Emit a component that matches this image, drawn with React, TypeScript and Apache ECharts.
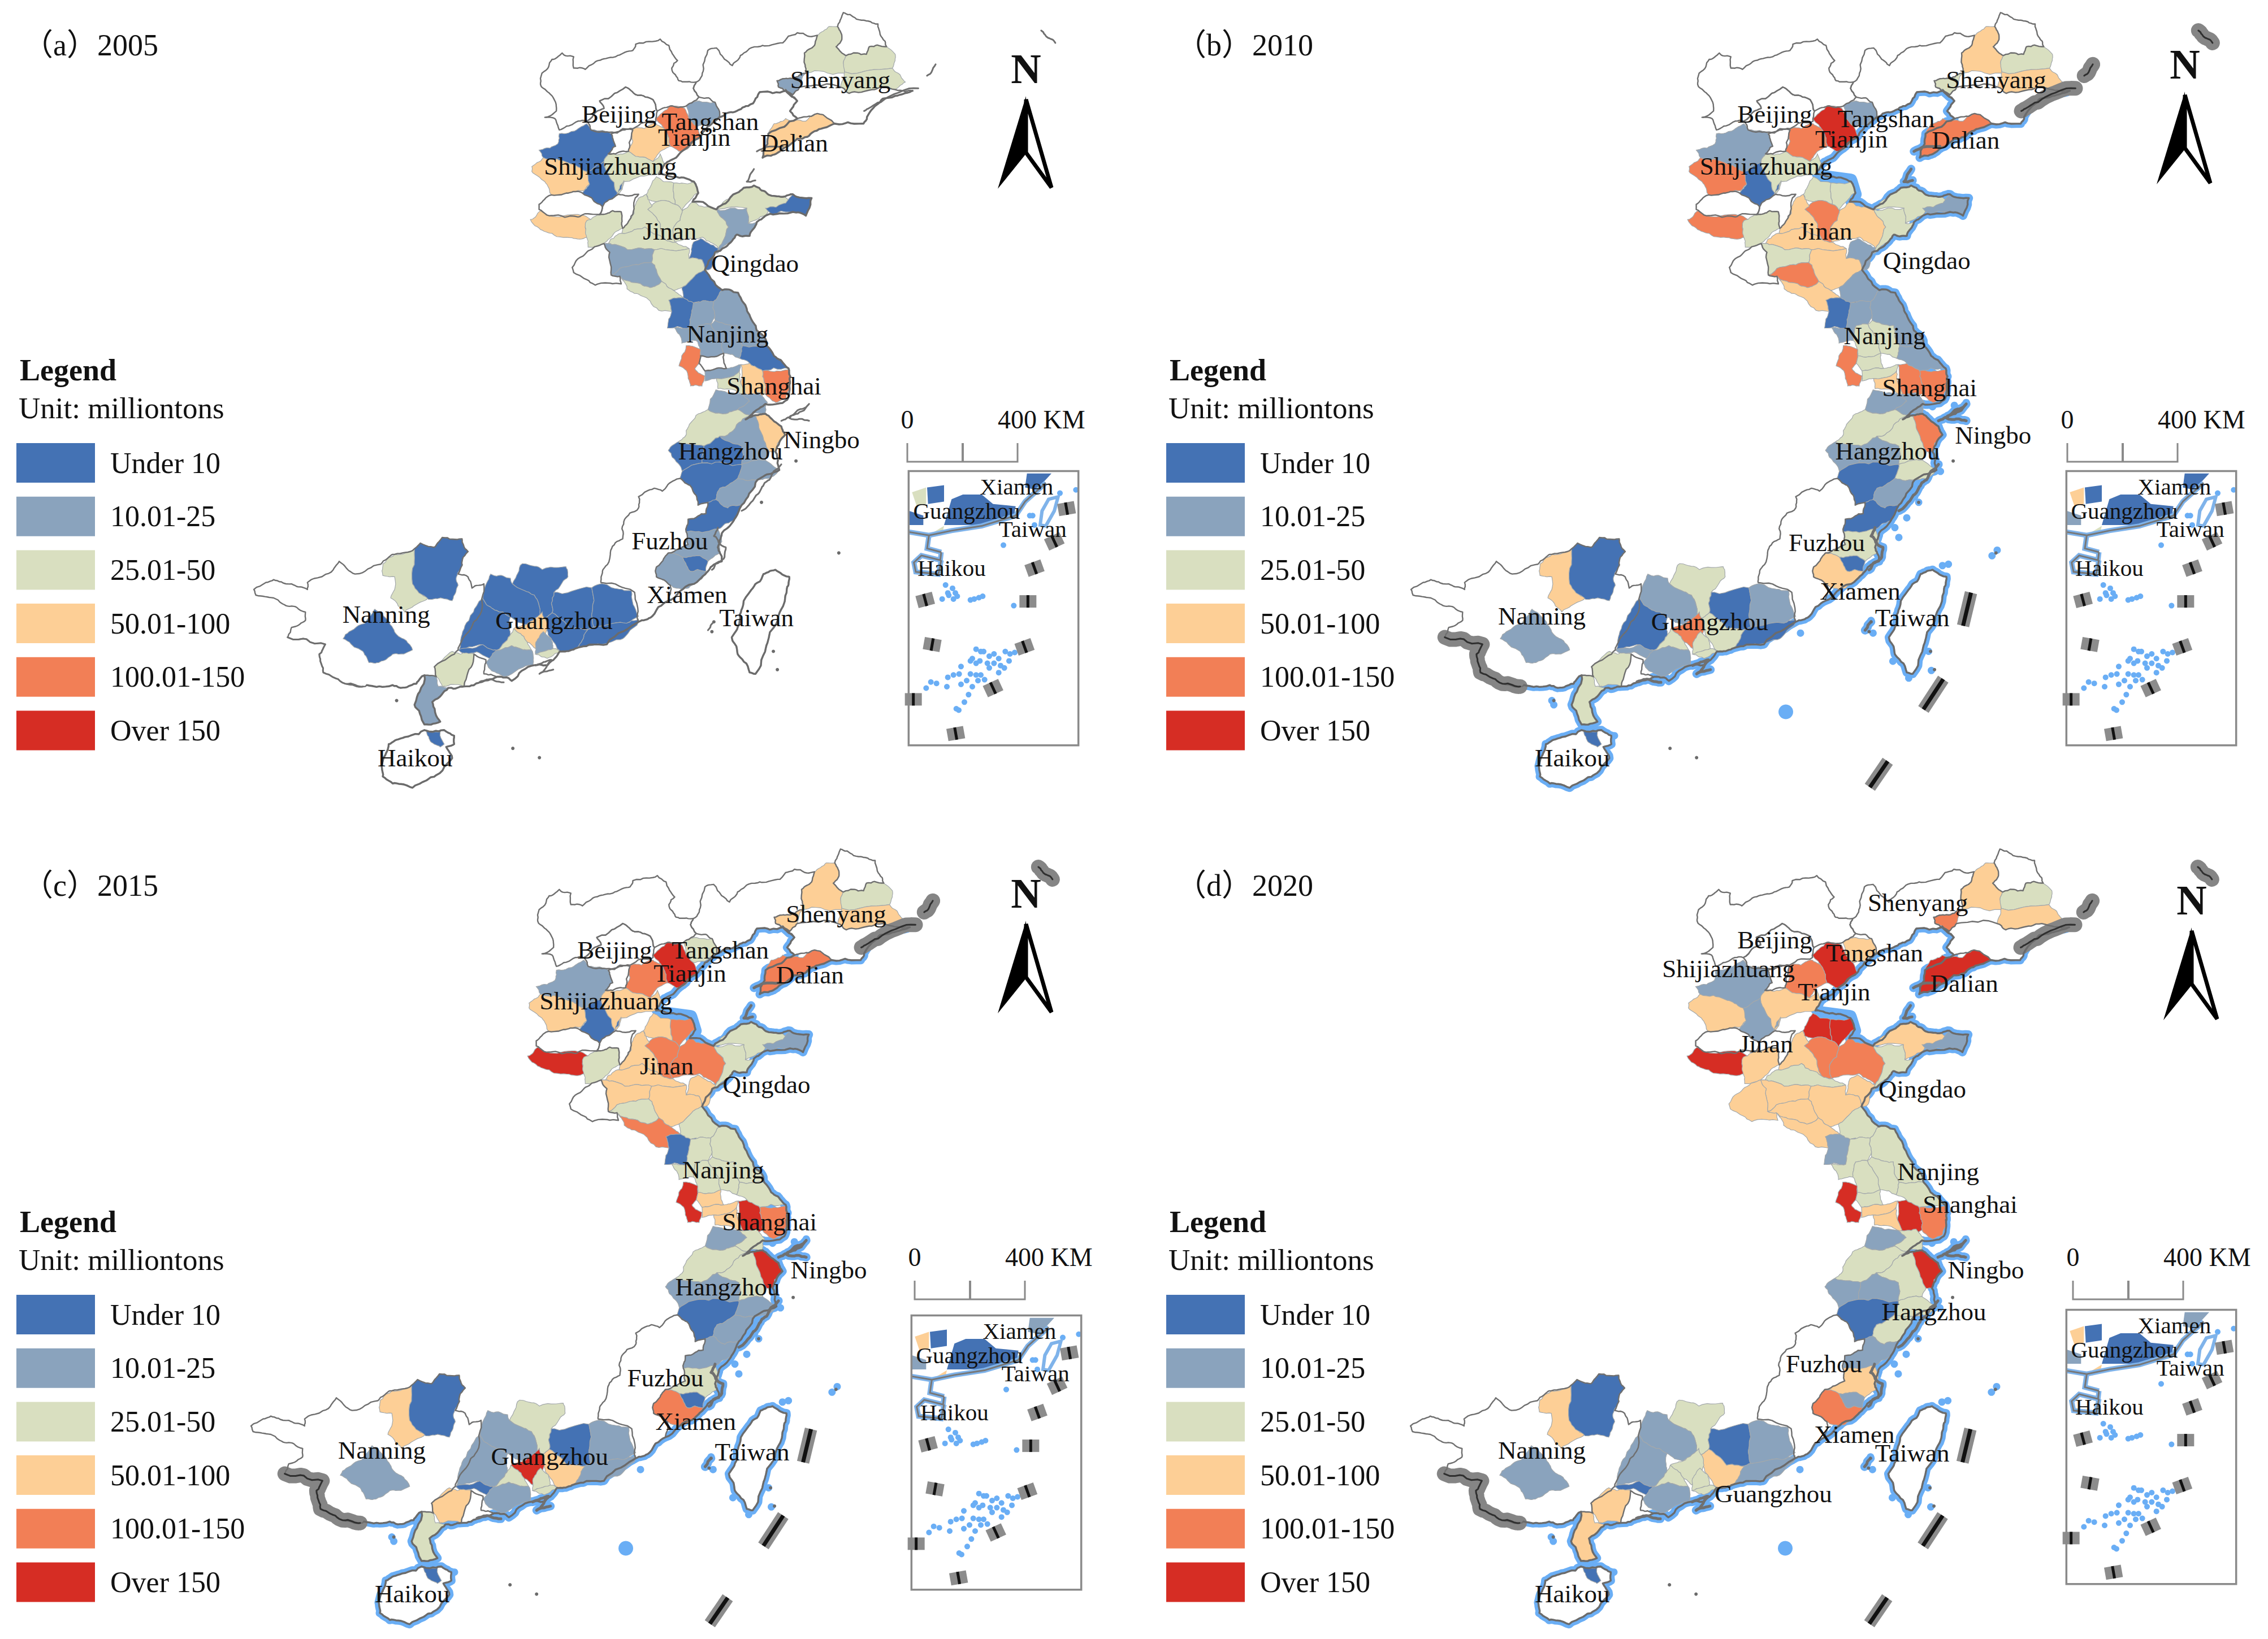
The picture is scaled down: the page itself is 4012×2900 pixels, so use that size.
import React, { useEffect, useRef } from "react";
import * as echarts from "echarts";

const serif = "'Liberation Serif','Times New Roman',serif";
const classColors = ["#4472b4", "#8aa3bd", "#d9dfc0", "#fdcf96", "#f27f56", "#d62d24"];
const legendLabels = ["Under 10", "10.01-25", "25.01-50", "50.01-100", "100.01-150", "Over 150"];
const panelTitles = ["（a）2005", "（b）2010", "（c）2015", "（d）2020"];

// region order, shared by the value lists below
const regionNames = ["hebeiN","beijing","langfang","liaoxi","tieling","shenyang","fushun","benxi","anshan","liaonan","dalian","qinhuangdao","tangshan","tianjin","baoding","shijiazhuang","cangzhou","xingtai","anyang","handan","liaocheng","dezhou","jinan","binzhou","dongying","zibo","weifang","yantai","weihai","qingdao","rizhao","taian","jining","heze","zaozhuang","linyi","xuzhou","lianyungang","suqian","huaian","yancheng","yangzhou","taizhouJS","nantong","nanjing","zhenjiang","changzhou","wuxi","suzhou","shanghai","huzhou","jiaxing","hangzhou","shaoxing","ningbo","quzhou","jinhua","lishui","taizhouZJ","wenzhou","ningde","fuzhou","putian","quanzhou","fujianW","guangxi","liuzhou","guilin","nanning","shaoguan","qingyuan","zhaoqing","yunfu","heyuan","meizhou","chaoshan","huizhou","guangzhou","foshan","dongguan","shenzhen","jiangmen","maoming","yangjiang","zhanjiang","hainan","haikou","taiwan"];

const n = null;
const values2005 = [n,n,n,n,n,38,38,38,18,n,75,18,125,75,6,75,38,6,n,75,38,n,38,38,38,38,38,38,6,18,6,38,18,n,18,38,38,6,6,18,18,18,18,6,125,n,18,38,75,125,18,18,38,18,75,6,6,6,18,18,6,18,6,18,n,n,38,6,6,6,6,6,6,6,6,6,6,75,38,18,38,18,38,n,18,n,6,n];
const values2010 = [n,n,n,n,n,75,38,75,38,n,125,18,180,125,18,125,38,6,n,125,38,n,75,38,38,125,75,38,18,38,18,75,38,n,125,75,75,18,6,18,18,38,38,18,125,38,38,75,125,125,18,18,38,38,125,18,18,6,38,18,6,38,6,75,n,n,75,6,18,38,18,6,18,6,18,6,38,125,38,38,38,18,38,n,38,n,6,n];
const values2015 = [n,n,n,n,n,75,38,75,75,n,125,38,180,125,18,75,75,6,n,180,38,n,75,75,125,125,125,38,18,38,75,75,75,n,38,75,125,38,6,38,38,38,38,38,180,75,75,75,180,125,18,38,38,38,180,18,18,6,18,18,18,38,6,125,n,n,75,6,18,38,18,18,6,6,18,18,75,180,38,38,38,18,75,n,38,n,6,n];
const values2020 = [n,n,n,n,n,75,38,75,125,n,180,75,180,125,18,75,75,18,n,180,75,n,75,180,180,125,125,75,18,38,75,38,75,75,75,75,75,38,18,38,38,38,38,38,180,38,75,75,180,125,18,38,38,38,180,18,18,6,38,38,18,75,18,125,n,n,75,6,18,38,18,18,6,6,18,18,75,38,38,38,38,18,75,n,75,n,6,n];
const yearValues = [values2005, values2010, values2015, values2020];

// outlines, in zoomed north / south sheet units
const northShapes: Record<string, number[]> = {
  hebeiN: [115,290,150,235,185,210,225,225,225,270,265,275,310,240,370,225,430,200,440,175,525,155,555,180,585,240,565,270,590,320,650,325,640,350,660,385,615,420,560,420,515,440,500,395,440,375,405,345,315,400,330,430,270,480,240,480,175,515,160,470,125,465,165,440,150,380,110,335],
  beijing: [315,400,405,345,440,375,500,395,515,440,510,480,430,510,365,525,285,515,270,480,330,430],
  langfang: [355,530,430,515,415,600,370,610,345,610,370,580],
  liaoxi: [640,350,650,325,670,300,690,200,720,190,745,230,775,260,815,210,880,180,950,170,1000,130,1070,140,1060,180,1025,210,1030,290,975,310,930,320,935,345,960,360,870,365,830,420,790,440,730,465,715,405,660,385],
  tieling: [1140,105,1160,50,1200,70,1230,80,1280,95,1295,150,1310,185,1250,185,1240,215,1170,220,1135,185,1155,150],
  shenyang: [1070,140,1110,105,1140,105,1155,150,1135,185,1170,220,1160,250,1165,290,1030,290,1025,210,1060,180],
  fushun: [1170,220,1240,215,1250,185,1310,185,1340,215,1330,270,1165,285,1160,250],
  benxi: [1165,285,1330,270,1350,290,1375,325,1340,355,1260,355,1180,370,1150,345],
  anshan: [930,320,975,310,1030,290,1010,345,985,375,960,355,935,345],
  liaonan: [1010,345,1150,345,1180,370,1260,355,1340,355,1400,360,1340,380,1270,420,1230,490,1130,490,1070,450,1000,470,975,440,1000,400,960,355,985,375],
  dalian: [920,490,960,470,1030,480,1070,450,1130,490,1060,520,1000,550,940,600,880,625,900,530],
  qinhuangdao: [615,420,660,400,715,405,730,465,690,495,650,500,625,470],
  tangshan: [510,470,560,420,610,430,625,470,650,500,665,540,620,590,590,600,560,580,545,520],
  tianjin: [430,510,470,510,510,490,545,520,560,580,525,600,500,640,440,620,415,600,430,560],
  baoding: [105,595,170,570,175,530,240,510,270,490,285,515,355,530,370,580,345,610,330,640,270,680,215,650,120,625],
  shijiazhuang: [80,660,120,625,215,650,270,680,280,730,260,755,200,765,150,775,125,720,80,680],
  cangzhou: [345,610,415,600,440,620,500,640,525,610,540,650,520,690,400,720,380,770,345,690,330,640],
  xingtai: [270,680,330,640,345,690,380,770,400,715,375,770,325,820,255,765,280,730],
  anyang: [105,810,140,775,200,765,255,765,325,820,315,850,240,860,140,855,105,830],
  handan: [75,870,110,835,140,855,240,850,285,870,265,900,275,940,225,945,150,925,100,900],
  liaocheng: [270,875,320,850,360,835,390,840,395,905,350,945,330,965,275,980,270,940,265,900],
  dezhou: [325,820,380,770,450,770,430,850,412,885,395,905,390,840,360,835,315,850],
  jinan: [450,785,477,770,502,850,522,880,542,950,472,900,392,925,395,905,412,885,442,800],
  binzhou: [477,770,512,700,572,725,577,810,512,800,482,790],
  dongying: [572,725,642,720,657,765,632,790,602,835,577,810],
  zibo: [482,830,512,800,577,810,602,835,572,900,577,960,542,950,522,880,502,850],
  weifang: [602,835,637,800,722,830,762,900,727,985,672,940,627,945,577,960,572,900],
  yantai: [720,830,750,795,790,765,850,735,890,760,950,780,985,800,960,820,900,825,890,855,830,885,825,825],
  weihai: [890,825,960,805,985,770,1050,785,1030,855,985,840,910,850],
  qingdao: [722,830,825,825,830,885,860,880,835,935,790,930,770,960,720,1005,727,985,762,900],
  rizhao: [625,1025,640,960,665,945,727,985,715,1000,700,1065,680,1070,670,1030],
  taian: [352,950,392,925,472,900,542,950,577,960,625,985,505,990,412,990,345,965],
  jining: [330,965,345,965,412,990,505,990,495,1040,430,1050,355,1090,350,1000],
  heze: [220,1060,270,1000,330,965,350,1000,355,1090,385,1095,390,1125,300,1130,225,1080],
  zaozhuang: [355,1090,430,1050,495,1040,530,1115,490,1140,430,1120,385,1095],
  linyi: [495,1040,505,990,625,985,625,1025,670,1030,680,1070,640,1100,600,1140,570,1150,530,1115],
  xuzhou: [385,1095,430,1120,490,1140,530,1115,570,1150,605,1180,555,1190,565,1235,520,1230,465,1175,410,1145],
  lianyungang: [600,1140,640,1100,680,1070,740,1150,710,1195,640,1200,605,1180],
  suqian: [555,1190,605,1180,640,1200,660,1195,635,1230,625,1300,550,1300,565,1235],
  huaian: [635,1230,640,1200,710,1195,715,1250,700,1285,660,1290,650,1350,600,1360,575,1300,625,1300],
  yancheng: [710,1195,740,1150,795,1160,830,1240,860,1310,895,1370,810,1370,790,1290,715,1270,715,1250],
  yangzhou: [660,1290,700,1285,730,1340,745,1400,665,1410,650,1350],
  taizhouJS: [700,1285,715,1270,790,1290,810,1370,800,1420,745,1400,730,1340],
  nantong: [810,1370,895,1370,930,1420,970,1460,880,1470,835,1440,800,1420],
  nanjing: [615,1370,665,1385,665,1410,660,1440,645,1460,680,1490,670,1530,630,1530,620,1480,590,1450],
  zhenjiang: [665,1410,745,1400,755,1460,680,1470,660,1440],
  changzhou: [680,1470,755,1460,805,1445,800,1470,780,1490,720,1500,680,1510],
  wuxi: [720,1500,780,1490,800,1470,805,1520,820,1570,780,1545,725,1540],
  suzhou: [805,1445,835,1440,880,1470,885,1510,890,1560,850,1590,820,1570,805,1520],
  shanghai: [880,1470,970,1465,975,1530,960,1580,925,1595,890,1560,885,1510],
};

const southShapes: Record<string, number[]> = {
  huzhou: [1215,150,1235,80,1300,95,1320,120,1290,150,1260,165],
  jiaxing: [1300,95,1345,90,1365,125,1360,165,1320,170,1290,150,1320,120],
  hangzhou: [1160,225,1185,170,1215,150,1260,165,1290,150,1320,170,1290,200,1265,240,1245,245,1205,280,1140,265,1160,240],
  shaoxing: [1265,240,1290,200,1320,170,1340,180,1345,220,1370,300,1360,330,1300,345,1300,280,1245,245],
  ningbo: [1335,170,1360,165,1400,210,1410,240,1390,270,1385,300,1370,300,1345,220],
  quzhou: [1115,295,1140,265,1205,280,1200,340,1150,370,1125,320],
  jinhua: [1205,280,1245,245,1300,280,1300,345,1200,340],
  lishui: [1150,370,1200,340,1300,345,1290,395,1245,430,1235,470,1190,490,1170,420,1145,395],
  taizhouZJ: [1300,345,1360,330,1395,365,1370,395,1340,400,1290,395],
  wenzhou: [1245,430,1290,395,1340,400,1300,490,1265,500,1235,470],
  ningde: [1215,480,1235,470,1265,500,1300,490,1280,545,1240,575,1180,590,1160,585,1165,540,1210,520],
  fuzhou: [1160,585,1240,575,1250,620,1245,660,1215,690,1190,670,1150,675,1115,660,1165,630],
  putian: [1150,675,1190,670,1215,690,1210,725,1170,725],
  quanzhou: [1115,660,1150,675,1170,725,1210,725,1180,770,1150,790,1120,775,1085,745,1085,710],
  fujianW: [1145,395,1170,420,1190,490,1215,480,1210,520,1165,540,1160,585,1165,630,1115,660,1085,710,1085,745,1120,775,1115,830,1070,890,1040,905,1030,800,945,765,950,720,970,650,1000,610,1005,540,1040,500,1040,460,1080,430,1100,440],
  guangxi: [70,790,120,755,165,770,205,790,205,765,270,720,285,690,325,735,390,700,420,665,475,645,490,625,525,640,545,605,595,610,610,655,590,720,585,735,610,745,620,785,650,770,640,880,605,950,585,1005,525,1065,530,1100,500,1095,480,1125,440,1140,420,1130,355,1130,300,1125,245,1085,235,1020,250,985,155,960,165,925,200,900,200,870,160,850,120,820,75,810],
  liuzhou: [395,700,425,665,475,645,470,770,510,820,490,835,450,870,415,820,425,745,395,740],
  guilin: [475,645,490,625,525,640,545,605,595,610,610,655,590,720,580,750,585,775,570,830,510,825,470,770],
  nanning: [350,910,375,860,405,895,430,950,470,1005,420,1020,385,1050,360,1050,345,1010,295,965,310,940],
  shaoguan: [722,770,747,698,797,719,857,709,862,745,827,800,822,873,797,892,777,810],
  qingyuan: [647,822,667,735,717,750,722,770,777,810,797,892,757,915,717,888,677,863],
  zhaoqing: [602,919,647,822,677,863,717,888,717,950,682,1006,647,986,587,1006],
  yunfu: [585,1006,647,986,682,1006,667,1035,632,1012,607,1025],
  heyuan: [827,800,922,784,927,924,912,932,867,930,822,873],
  meizhou: [922,784,947,769,1022,794,1040,885,1010,910,927,924],
  chaoshan: [927,924,1010,910,1040,895,1040,905,1000,965,917,990,880,1000,902,952,912,932],
  huizhou: [797,892,822,873,867,930,912,932,902,952,880,1000,842,1010,820,965],
  guangzhou: [725,930,757,915,797,870,810,930,780,1000,755,970],
  foshan: [682,1006,717,950,725,930,755,970,770,1005,720,990],
  dongguan: [780,985,800,940,820,965,825,1000,780,1020],
  shenzhen: [780,1020,825,1000,842,1010,810,1035],
  jiangmen: [655,1050,682,1006,720,990,770,1005,775,1060,700,1100,670,1080],
  maoming: [525,1065,570,1010,590,1020,625,1020,605,1110,600,1135,545,1135,530,1100],
  yangjiang: [625,1020,655,1040,655,1050,650,1090,690,1100,640,1120,600,1135,605,1110],
  zhanjiang: [500,1095,530,1100,535,1135,560,1140,540,1170,520,1190,540,1260,500,1270,475,1200],
  hainan: [395,1400,410,1340,440,1320,500,1290,550,1290,575,1310,575,1340,555,1350,570,1390,530,1450,470,1495,420,1480,395,1455],
  haikou: [505,1295,540,1295,550,1340,540,1350,515,1330],
  taiwan: [1385,720,1420,745,1415,780,1400,860,1365,980,1335,1090,1320,1085,1290,1020,1275,960,1295,880,1325,790,1355,735],
};

const coastNorth = [975,1520,970,1460,930,1420,895,1370,860,1310,830,1240,795,1160,740,1150,680,1070,715,1000,770,960,790,930,835,935,860,880,890,855,985,840,1030,855,1050,785,985,770,950,780,890,760,850,735,790,765,720,830,637,800,657,765,642,720,580,700,520,690,540,650,580,625,600,600,665,540,690,500,730,465,790,440,830,420,870,365,960,360,1000,400,975,440,1000,470,900,530,880,625,940,600,1000,550,1060,520,1130,490,1230,490,1270,420,1340,380,1400,360];
const coastSouth = [355,1130,420,1130,440,1140,480,1125,500,1095,475,1200,500,1270,540,1260,520,1190,540,1170,560,1140,600,1135,640,1120,690,1100,720,1115,775,1060,810,1060,842,1010,880,1000,960,985,1040,905,1070,890,1115,830,1180,770,1215,725,1250,690,1240,640,1250,590,1280,545,1300,490,1340,400,1395,365,1385,300,1410,240,1400,210,1360,165,1335,170,1310,185,1330,160,1360,130,1415,115,1420,57];
const borderBandSouth = [155,960,250,985,235,1020,245,1085,300,1125,345,1135];
const borderBandNorth = [1232,440,1290,405,1420,350];
const borderBlipNorth = [1450,300,1480,255];
const borderBlipFarNorth = [1846,121,1870,150,1895,170];
const waterPatchesNorth = [[890,1465,950,1510],[540,700,640,715,655,770]];
const waterPatchesSouth = [[1335,175,1310,190]];
const islandChainsNorth = [[850,670,825,720,855,715],[860,600,950,580]];
const islandChainsSouth = [[1400,190,1430,170,1470,130,1445,150,1420,180,1470,190],[1240,570,1230,600,1260,640,1255,680,1225,720],[1400,345,1370,400,1350,430,1330,470,1300,510],[780,1060,820,1040,790,1090,825,1075],[700,1120,670,1110,640,1118],[1230,905,1215,935]];
const dashSegmentsD = [[1405,840,1385,955],[1335,1140,1285,1245],[1195,1425,1150,1515]];
const blueDotsSouth = [[1320,535],[1290,570],[1300,605],[1535,670],[1548,650],[1410,705],[1425,700],[1230,900],[1215,935],[1235,945],[1375,1010],[1382,1078],[1325,1105],[1285,1045],[425,1185],[430,1200],[583,1310],[1052,945],[1340,460],[1350,480],[1395,345],[1405,370],[1385,140],[1470,125],[1440,135]];
const bigDotSouth = [[1015,1225]];
const greyDotsSouth = [[723,1355],[790,1388],[1437,333],[1230,905],[1225,940],[1350,480],[1380,1010],[1390,1075],[1545,660],[430,1185]];

const tinyEnglish: Record<string, string> = { shenyang: "Shenyang", shijiazhuang: "Shijiazhuang", jinan: "Jinan", qingdao: "Qingdao", dalian: "Dalian", tangshan: "Tangshan", nanjing: "Nanjing", suzhou: "Suzhou", shanghai: "Shanghai", hangzhou: "Hangzhou", ningbo: "Ningbo", fuzhou: "Fuzhou", guangzhou: "Guangzhou", shenzhen: "Shenzhen", nanning: "Nanning", haikou: "Haikou" };
const tinyChinese: Record<string, string> = { shenyang:"沈阳市",fushun:"抚顺市",benxi:"本溪市",anshan:"鞍山市",dalian:"大连市",qinhuangdao:"秦皇岛市",tangshan:"唐山市",tianjin:"天津市",baoding:"保定市",shijiazhuang:"石家庄市",cangzhou:"沧州市",xingtai:"衡水市",handan:"邯郸市",liaocheng:"聊城市",jinan:"济南市",binzhou:"滨州市",dongying:"东营市",zibo:"淄博市",weifang:"潍坊市",yantai:"烟台市",weihai:"威海市",qingdao:"青岛市",rizhao:"日照市",taian:"泰安市",jining:"济宁市",heze:"菏泽市",zaozhuang:"枣庄市",linyi:"临沂市",xuzhou:"徐州市",lianyungang:"连云港市",suqian:"宿迁市",huaian:"淮安市",yancheng:"盐城市",yangzhou:"扬州市",taizhouJS:"泰州市",nantong:"南通市",nanjing:"南京市",zhenjiang:"镇江市",changzhou:"常州市",wuxi:"无锡市",suzhou:"苏州市",shanghai:"上海市",huzhou:"湖州市",jiaxing:"嘉兴市",hangzhou:"杭州市",shaoxing:"绍兴市",ningbo:"宁波市",quzhou:"衢州市",jinhua:"金华市",lishui:"丽水市",taizhouZJ:"台州市",wenzhou:"温州市",ningde:"宁德市",fuzhou:"福州市",putian:"莆田市",quanzhou:"泉州市",liuzhou:"柳州市",guilin:"桂林市",nanning:"南宁市",shaoguan:"韶关市",qingyuan:"清远市",zhaoqing:"肇庆市",yunfu:"云浮市",heyuan:"河源市",meizhou:"梅州市",chaoshan:"揭阳市",huizhou:"惠州市",guangzhou:"广州市",foshan:"佛山市",dongguan:"东莞市",jiangmen:"江门市",maoming:"茂名市",zhanjiang:"湛江市" };

const cityNames = ["Shenyang","Beijing","Tangshan","Tianjin","Dalian","Shijiazhuang","Jinan","Qingdao","Nanjing","Shanghai","Ningbo","Hangzhou","Fuzhou","Xiamen","Guangzhou","Taiwan","Nanning","Haikou"];
// label centres read on the 1568-wide overview, one list per panel
const cityPlaces = [
  [[581,55],[428,79],[491,84],[480,95],[549,99],[422,115],[463,160],[522,182],[503,231],[535,267],[568,304],[505,312],[463,374],[475,411],[383,429],[523,427],[267,425],[287,524]],
  [[1380,55],[1227,79],[1304,82],[1280,96],[1359,97],[1221,115],[1262,160],[1332,180],[1303,232],[1334,268],[1378,301],[1305,312],[1263,375],[1286,409],[1182,430],[1322,427],[1066,426],[1087,524]],
  [[578,632],[425,657],[498,657],[477,673],[560,674],[419,692],[461,737],[530,750],[500,809],[532,845],[573,878],[503,890],[460,953],[481,983],[380,1007],[520,1004],[264,1003],[285,1102]],
  [[1326,624],[1227,650],[1296,659],[1268,686],[1358,680],[1195,670],[1221,722],[1329,753],[1340,810],[1362,833],[1373,878],[1337,907],[1261,943],[1282,992],[1226,1033],[1322,1005],[1066,1003],[1087,1102]],
];
const overviewScale = 4012 / 1568;

// panel shifts relative to panel (a)
const mapShift = [[0,0],[2047,0],[-5,1480],[2046,1480]];
const legendShift = [[0,0],[2034,0],[0,1507],[2034,1507]];
const titleShift = [[0,0],[2040,0],[0,1487],[2040,1487]];
const arrowShift = [[0,0],[2050,-8],[0,1459],[2062,1471]];
const barShift = [[0,0],[2052,0],[13,1482],[2062,1482]];
const insetShift = [[0,0],[2048,0],[5,1494],[2048,1484]];

// inset sheet contents
const insetDashes = [[1010,1025,80],[945,1095,65],[840,1152,70],[805,1223,90],[787,1320,70],[620,1408,65],[422,1505,80],[197,1432,90],[297,1315,100],[260,1220,75]];
const insetDots = [[368,1188],[380,1205],[405,1195],[420,1205],[385,1210],[430,1212],[350,1218],[410,1218],[500,1220],[520,1218],[545,1215],[565,1212],[675,1103],[730,1232],[530,1325],[555,1330],[570,1330],[500,1350],[530,1355],[510,1345],[550,1350],[600,1340],[625,1335],[650,1345],[590,1355],[625,1355],[660,1360],[685,1330],[710,1335],[735,1332],[705,1350],[680,1365],[650,1375],[600,1365],[450,1362],[380,1385],[410,1380],[440,1378],[500,1378],[530,1380],[555,1380],[290,1395],[265,1408],[320,1398],[375,1405],[450,1400],[480,1392],[510,1405],[540,1392],[575,1390],[490,1422],[468,1438],[425,1452],[438,1455],[1060,985],[975,992],[830,1040],[815,1040],[840,1060]];
const insetFills: [string, number[]][] = [
  ["liuzhou", [190,990,265,980,265,1015,215,1020]],
  ["guilin", [270,980,360,975,360,1010,275,1015]],
  ["heyuan", [360,1060,400,1005,460,995,560,995,620,1015,740,1020,730,1045,560,1060]],
  ["ningde", [800,950,930,950,850,985,790,980]],
  ["nanning", [175,1030,250,1040,250,1060,175,1060]],
  ["maoming", [305,1075,360,1062,350,1080,310,1085]],
];
const insetCoast = [175,1075,280,1082,400,1072,560,1062,740,1040,790,1010,900,970];
const insetLeizhou = [280,1082,270,1110,345,1118];
const insetHainan = [345,1118,340,1135,240,1125,200,1140,210,1160,330,1165,345,1135];
const insetTaiwan = [915,1005,965,1000,945,1030,900,1062,870,1060,880,1030];
const insetTexts: [string, number, number][] = [["Xiamen",745,978],["Guangzhou",480,1030],["Taiwan",830,1068],["Haikou",400,1152]];

const toN = (x: number, y: number) => [900 + x / 1.96, y / 2.24];
const toS = (x: number, y: number) => [400 + x / 1.4255, 650 + y / 2.01];
const toD = (x: number, y: number) => [2500 + x / 1.4255 - 2046, 2100 + y / 1.96 - 1480];
const pairs = (flat: number[], fn: (x: number, y: number) => number[]) => {
  const out: number[][] = [];
  for (let i = 0; i < flat.length; i += 2) out.push(fn(flat[i], flat[i + 1]));
  return out;
};
const geoOf = (p: number[]) => [p[0], -p[1]];

// coastline wiggle: an edge always breaks the same way, so neighbours keep sharing it
const wiggle = (x: number, y: number) => {
  const v = Math.sin(x * 12.9898 + y * 78.233) * 43758.5453;
  return v - Math.floor(v) - 0.5;
};
const breakEdge = (a: number[], b: number[], depth: number, out: number[][]) => {
  const len = Math.hypot(b[0] - a[0], b[1] - a[1]);
  if (depth === 0 || len < 5) return;
  const amp = Math.min(len * 0.22, 9);
  const mx = (a[0] + b[0]) / 2;
  const my = (a[1] + b[1]) / 2;
  const m = [mx + wiggle(mx, my) * amp, my + wiggle(my, mx) * amp];
  breakEdge(a, m, depth - 1, out);
  out.push(m);
  breakEdge(m, b, depth - 1, out);
};
const rough = (pts: number[][], isRing: boolean) => {
  const out: number[][] = [];
  const last = isRing ? pts.length : pts.length - 1;
  for (let i = 0; i < last; i++) {
    const a = pts[i];
    const b = pts[(i + 1) % pts.length];
    out.push(a);
    // break every edge in one fixed direction so both neighbours get the same points
    const forward = a[0] < b[0] || (a[0] === b[0] && a[1] < b[1]);
    const piece: number[][] = [];
    breakEdge(forward ? a : b, forward ? b : a, 3, piece);
    if (!forward) piece.reverse();
    out.push(...piece);
  }
  if (!isRing) out.push(pts[pts.length - 1]);
  return out;
};
const roughLine = (flat: number[], fn: (x: number, y: number) => number[]) => rough(pairs(flat, fn), false).map(geoOf);
const plainRing = (name: string) => (northShapes[name] ? pairs(northShapes[name], toN) : pairs(southShapes[name], toS));
const ringOf = (name: string) => rough(plainRing(name), true);
const closed = (r: number[][]) => [...r, r[0]].map(geoOf);
const centreOf = (r: number[][]) => [r.reduce((s, p) => s + p[0], 0) / r.length, r.reduce((s, p) => s + p[1], 0) / r.length];

const mapGeoJson = {
  type: "FeatureCollection",
  features: regionNames.map((name) => ({
    type: "Feature",
    properties: { name },
    geometry: { type: "Polygon", coordinates: [closed(ringOf(name))] },
  })),
};
echarts.registerMap("coast", mapGeoJson as any);

const BOX = { x0: 100, x1: 2100, h: 1480 };
const lineSeries = (panel: number, coordsList: number[][][], color: string, width: number, z: number, cap = "round") => ({
  type: "lines",
  coordinateSystem: "geo",
  geoIndex: panel,
  polyline: true,
  silent: true,
  z,
  lineStyle: { color, width, opacity: 1, curveness: 0, join: "round", cap },
  data: coordsList.map((coords) => ({ coords })),
});
const dotSeries = (panel: number, pts: number[][], color: string, size: number, z: number) => ({
  type: "scatter",
  coordinateSystem: "geo",
  geoIndex: panel,
  silent: true,
  z,
  symbolSize: size,
  itemStyle: { color, opacity: 1 },
  data: pts.map(geoOf),
});

function buildOption() {
  const geo: any[] = [];
  const series: any[] = [];
  const visualMap: any[] = [];
  const graphic: any[] = [];
  const text = (t: string, x: number, y: number, size: number, extra: any = {}) => ({
    type: "text",
    silent: true,
    z: 200,
    x,
    y,
    style: { text: t, fontSize: size, fontFamily: serif, fill: "#111", textAlign: "center", textVerticalAlign: "middle", ...extra },
  });

  const coastLines = [roughLine(coastNorth, toN), roughLine(coastSouth, toS)];
  const chains = [...islandChainsNorth.map((c) => roughLine(c, toN)), ...islandChainsSouth.map((c) => roughLine(c, toS))];
  const rings = [closed(ringOf("hainan")), closed(ringOf("taiwan"))];
  const bandLines = [roughLine(borderBandSouth, toS), roughLine(borderBandNorth, toN), roughLine(borderBlipNorth, toN), roughLine(borderBlipFarNorth, toN)];

  panelTitles.forEach((title, p) => {
    const [dx, dy] = mapShift[p];
    const vals = yearValues[p];
    geo.push({
      map: "coast",
      left: BOX.x0 + dx,
      top: dy,
      width: BOX.x1 - BOX.x0,
      height: BOX.h,
      aspectScale: 1,
      boundingCoords: [[BOX.x0, 0], [BOX.x1, -BOX.h]],
      roam: false,
      silent: true,
      z: 2,
      label: { show: false },
      itemStyle: { areaColor: "#ffffff", borderColor: "#a3a8ab", borderWidth: 1.2 },
      emphasis: { disabled: true },
      select: { disabled: true },
    });
    const mapIndex = series.length;
    series.push({
      type: "map",
      geoIndex: p,
      silent: true,
      data: regionNames.map((name, i) => ({ name, value: vals[i] })).filter((d) => d.value !== null),
    });
    visualMap.push({
      type: "piecewise",
      seriesIndex: mapIndex,
      left: 29 + legendShift[p][0],
      top: 784 + legendShift[p][1],
      orient: "vertical",
      align: "left",
      inverse: true,
      itemWidth: 139,
      itemHeight: 70,
      itemGap: 24.7,
      textGap: 27,
      itemSymbol: "rect",
      selectedMode: false,
      hoverLink: false,
      padding: 0,
      textStyle: { fontSize: 52, fontFamily: serif, color: "#111" },
      outOfRange: { color: "#ffffff" },
      pieces: [
        { lte: 10, label: legendLabels[0], color: classColors[0] },
        { gt: 10, lte: 25, label: legendLabels[1], color: classColors[1] },
        { gt: 25, lte: 50, label: legendLabels[2], color: classColors[2] },
        { gt: 50, lte: 100, label: legendLabels[3], color: classColors[3] },
        { gt: 100, lte: 150, label: legendLabels[4], color: classColors[4] },
        { gt: 150, label: legendLabels[5], color: classColors[5] },
      ],
    });

    // water halo under the land, coast and outlines over it
    if (p > 0) {
      const patches = [...waterPatchesNorth.map((c) => pairs(c, toN).map(geoOf)), ...waterPatchesSouth.map((c) => pairs(c, toS).map(geoOf))];
      series.push(lineSeries(p, [...coastLines, ...rings, ...chains], "#6aaef5", 15, 1));
      series.push(lineSeries(p, patches, "#6aaef5", 24, 1));
      series.push(dotSeries(p, pairs(blueDotsSouth.flat(), toS), "#6aaef5", 13, 1));
      series.push(dotSeries(p, pairs(bigDotSouth.flat(), toS), "#6aaef5", 26, 1));
      series.push(lineSeries(p, bandLines, "#858585", 26, 3));
      series.push(lineSeries(p, bandLines, "#2f2f2f", 3, 4));
      const dashes = dashSegmentsD.map((d) => pairs(d, toD).map(geoOf));
      series.push(lineSeries(p, dashes, "#8c8c8c", 22, 3, "butt"));
      series.push(lineSeries(p, dashes, "#111111", 7, 4, "butt"));
    } else {
      series.push(lineSeries(p, bandLines, "#6f6f6f", 3, 3));
    }
    const outlines = regionNames.filter((_, i) => vals[i] === null).map((name) => closed(ringOf(name)));
    series.push(lineSeries(p, outlines, "#6f6f6f", 2.4, 3));
    series.push(lineSeries(p, [...coastLines, ...rings], "#6b6b6b", 3.4, 3));
    series.push(lineSeries(p, chains, "#707070", p > 0 ? 5 : 3, 3));
    series.push(dotSeries(p, pairs(greyDotsSouth.flat(), toS), "#6b6b6b", 6, 3));

    // small region names carried by the map itself
    const tiny = p === 3 ? tinyChinese : tinyEnglish;
    series.push({
      type: "scatter",
      coordinateSystem: "geo",
      geoIndex: p,
      silent: true,
      z: 5,
      symbolSize: 1,
      itemStyle: { opacity: 0 },
      label: {
        show: true,
        position: "inside",
        formatter: "{b}",
        fontSize: p === 3 ? 15 : 14,
        fontFamily: p === 3 ? "'Noto Sans CJK SC'" : "'Liberation Sans'",
        color: p === 3 ? "#6f6658" : "#4a4a4a",
      },
      data: Object.keys(tiny).map((k) => ({ name: tiny[k], value: geoOf(centreOf(plainRing(k))) })),
    });

    // title and legend heading
    graphic.push(text(title, 40 + titleShift[p][0], 80 + titleShift[p][1], 54, { textAlign: "left", fontFamily: "'Liberation Serif','Noto Sans CJK SC',serif" }));
    graphic.push(text("Legend", 35 + legendShift[p][0], 655 + legendShift[p][1], 54, { textAlign: "left", fontWeight: "bold" }));
    graphic.push(text("Unit: milliontons", 33 + legendShift[p][0], 722 + legendShift[p][1], 53, { textAlign: "left" }));

    // city names
    cityNames.forEach((name, i) => {
      const [ox, oy] = cityPlaces[p][i];
      graphic.push(text(name, ox * overviewScale, oy * overviewScale, 45));
    });

    // north arrow
    const [ax, ay] = arrowShift[p];
    graphic.push(text("N", 1815 + ax, 122 + ay, 74, { fontFamily: serif, fontWeight: "bold" }));
    graphic.push({ type: "polygon", silent: true, z: 200, shape: { points: [[1815 + ax, 176 + ay], [1860 + ax, 332 + ay], [1815 + ax, 270 + ay]] }, style: { fill: "#fff", stroke: "#000", lineWidth: 7, lineJoin: "miter" } });
    graphic.push({ type: "polygon", silent: true, z: 201, shape: { points: [[1815 + ax, 170 + ay], [1815 + ax, 272 + ay], [1765 + ax, 334 + ay]] }, style: { fill: "#000" } });

    // scale bar
    const [bx, by] = barShift[p];
    graphic.push(text("0", 1605 + bx, 742 + by, 46));
    graphic.push(text("400 KM", 1765 + bx, 742 + by, 46, { textAlign: "left" }));
    graphic.push({ type: "polyline", silent: true, z: 200, shape: { points: [[1605 + bx, 784 + by], [1605 + bx, 817 + by], [1800 + bx, 817 + by], [1800 + bx, 784 + by]] }, style: { stroke: "#8a8a8a", lineWidth: 3, fill: "none" } });
    graphic.push({ type: "line", silent: true, z: 200, shape: { x1: 1703 + bx, y1: 784 + by, x2: 1703 + bx, y2: 817 + by }, style: { stroke: "#8a8a8a", lineWidth: 4 } });

    // inset of the southern sea
    const [ix, iy] = insetShift[p];
    const inset = (x: number, y: number) => [1550 + x / 3 + ix, 50 + y / 1.206 + iy];
    insetFills.forEach(([region, flat]) => {
      const v = vals[regionNames.indexOf(region)] as number;
      const cls = v <= 10 ? 0 : v <= 25 ? 1 : v <= 50 ? 2 : v <= 100 ? 3 : v <= 150 ? 4 : 5;
      graphic.push({ type: "polygon", silent: true, z: 120, shape: { points: pairs(flat, inset) }, style: { fill: classColors[cls] } });
    });
    [insetCoast, insetLeizhou, insetHainan].forEach((flat) => {
      graphic.push({ type: "polyline", silent: true, z: 121, shape: { points: pairs(flat, inset) }, style: { stroke: "#7fb3ea", lineWidth: 9, fill: "none" } });
      graphic.push({ type: "polyline", silent: true, z: 122, shape: { points: pairs(flat, inset) }, style: { stroke: "#777", lineWidth: 3, fill: "none" } });
    });
    graphic.push({ type: "polygon", silent: true, z: 122, shape: { points: pairs(insetTaiwan, inset) }, style: { fill: "#fff", stroke: "#7fb3ea", lineWidth: 6 } });
    insetDots.forEach(([x, y]) => {
      const [cx, cy] = inset(x, y);
      graphic.push({ type: "circle", silent: true, z: 121, shape: { cx, cy, r: 5 }, style: { fill: "#6aaef5" } });
    });
    insetDashes.forEach(([x, y, deg]) => {
      const [cx, cy] = inset(x, y);
      const rad = (deg * Math.PI) / 180;
      const ex = Math.cos(rad) * 11;
      const ey = Math.sin(rad) * 11;
      graphic.push({ type: "line", silent: true, z: 123, shape: { x1: cx - ex, y1: cy - ey, x2: cx + ex, y2: cy + ey }, style: { stroke: "#8c8c8c", lineWidth: 30 } });
      graphic.push({ type: "line", silent: true, z: 124, shape: { x1: cx - ex, y1: cy - ey, x2: cx + ex, y2: cy + ey }, style: { stroke: "#111", lineWidth: 5 } });
    });
    const [bx0, by0] = inset(172, 945);
    const [bx1, by1] = inset(1073, 1530);
    graphic.push({ type: "rect", silent: true, z: 125, shape: { x: bx0, y: by0, width: bx1 - bx0, height: by1 - by0 }, style: { fill: "none", stroke: "#8a8a8a", lineWidth: 3.5 } });
    insetTexts.forEach(([t, x, y]) => {
      const [tx, ty] = inset(x, y);
      graphic.push(text(t, tx, ty, 41));
    });
  });

  return { animation: false, backgroundColor: "#ffffff", geo, series, visualMap, graphic: { elements: graphic } };
}

export default function App() {
  const ref = useRef<HTMLDivElement>(null);
  useEffect(() => {
    const chart = echarts.init(ref.current as HTMLDivElement, undefined, { renderer: "svg" });
    chart.setOption(buildOption() as any);
    return () => chart.dispose();
  }, []);
  return <div ref={ref} style={{ position: "fixed", left: 0, top: 0, width: 4012, height: 2900, background: "#fff" }} />;
}
